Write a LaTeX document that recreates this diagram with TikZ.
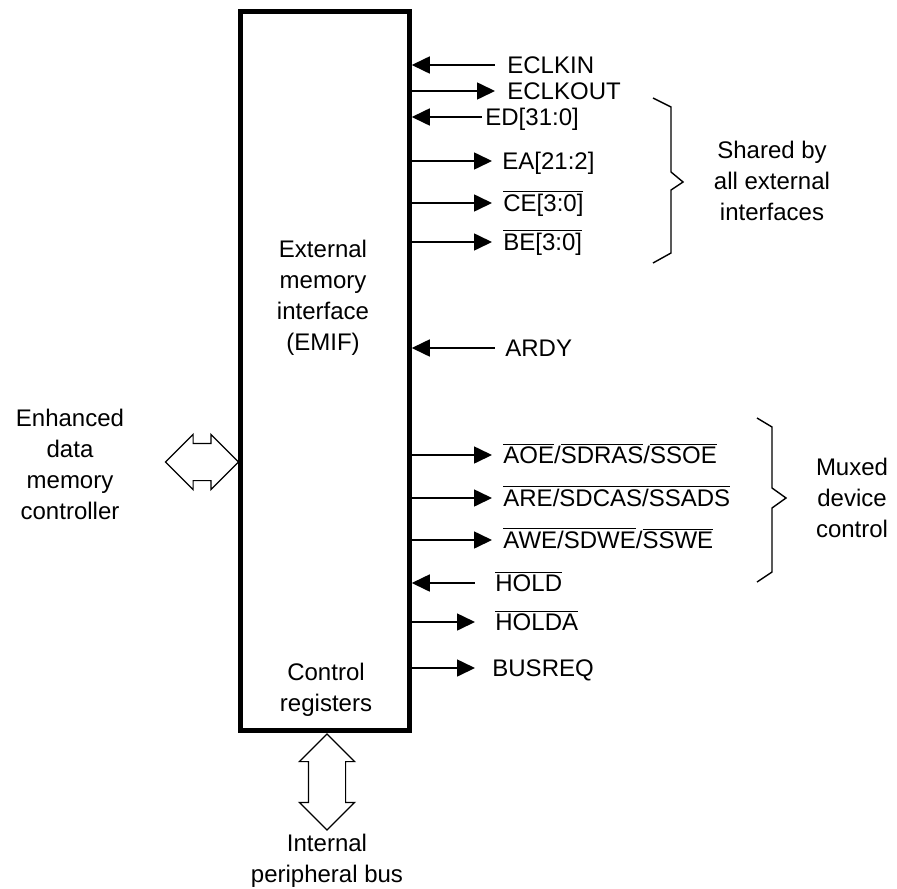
\documentclass[tikz,border=0pt]{standalone}
\usepackage{fontspec}
\setmainfont{Liberation Sans}
\usetikzlibrary{arrows.meta,shapes.arrows}
\newcommand\nbar[1]{$\overline{\mbox{#1}}$}

\begin{document}
\begin{tikzpicture}[x=0.5pt,y=-0.5pt,
 t/.style={align=center,font=\fontsize{12}{15.5}\selectfont},
 s/.style={anchor=west,inner sep=0pt,text height=8.6pt,text depth=0pt,font=\fontsize{12}{14}\selectfont},
 o/.style={-{Triangle[length=9pt,width=8.5pt]},line width=0.8pt},
 i/.style={{Triangle[length=9pt,width=8.5pt]}-,line width=0.8pt},
 bus/.style={draw,double arrow,line width=0.6pt,double arrow head extend=4.5pt,inner xsep=0pt,inner ysep=9pt},
 brc/.style={line width=0.7pt}]
\useasboundingbox (0,0) rectangle (897,888);
\node[draw,line width=2.5pt,minimum width=84.25pt,minimum height=359.75pt] (emif) at (325,371) {};
\node[t] (emiftxt) at (323,298) {External\\memory\\interface\\(EMIF)};
\node[t] (ctrl) at (326,690) {Control\\registers};
\node[t] (edmc) at (70,464) {Enhanced\\data\\memory\\controller};
\node[t] (ipb) at (327,861) {Internal\\peripheral bus};
\node[bus,minimum height=36.5pt,minimum width=27pt] (edmcbus) at (202,462) {};
\node[bus,rotate=90,minimum height=48pt,minimum width=26.5pt] (ipbbus) at (327,782) {};
% external signals
\node[s] (eclkin) at (507,65) {ECLKIN};
\node[s] (eclkout) at (507,91) {ECLKOUT};
\node[s] (ed) at (485,117) {ED[31:0]};
\node[s] (ea) at (502,161) {EA[21:2]};
\node[s] (ce) at (503,203) {\nbar{CE[3:0]}};
\node[s] (be) at (503,242) {\nbar{BE[3:0]}};
\node[s] (ardy) at (505,348) {ARDY};
\node[s] (aoe) at (503,455) {\nbar{AOE}/\nbar{SDRAS}/\nbar{SSOE}};
\node[s] (are) at (503,498) {\nbar{ARE/SDCAS/SSADS}};
\node[s] (awe) at (503,540) {\nbar{AWE/SDWE}/\nbar{SSWE}};
\node[s] (hold) at (495,583) {\nbar{HOLD}};
\node[s] (holda) at (495,622) {\nbar{HOLDA}};
\node[s] (busreq) at (492,668) {BUSREQ};
\draw[i] (emif.east |- eclkin.west) -- ([xshift=-6pt]eclkin.west);
\draw[o] (emif.east |- eclkout.west) -- ([xshift=-6pt]eclkout.west);
\draw[i] (emif.east |- ed.west) -- ([xshift=-1.5pt]ed.west);
\draw[o] (emif.east |- ea.west) -- ([xshift=-5pt]ea.west);
\draw[o] (emif.east |- ce.west) -- ([xshift=-5.5pt]ce.west);
\draw[o] (emif.east |- be.west) -- ([xshift=-5.5pt]be.west);
\draw[i] (emif.east |- ardy.west) -- ([xshift=-5pt]ardy.west);
\draw[o] (emif.east |- aoe.west) -- ([xshift=-5.5pt]aoe.west);
\draw[o] (emif.east |- are.west) -- ([xshift=-5.5pt]are.west);
\draw[o] (emif.east |- awe.west) -- ([xshift=-5.5pt]awe.west);
\draw[i] (emif.east |- hold.west) -- ([xshift=-10pt]hold.west);
\draw[o] (emif.east |- holda.west) -- ([xshift=-10pt]holda.west);
\draw[o] (emif.east |- busreq.west) -- ([xshift=-8.5pt]busreq.west);
% braces
\draw[brc] (653,98) -- (671,107) -- (671,172) -- (683,182) -- (671,190) -- (671,253) -- (653,263);
\node[t] (shared) at (772,181) {Shared by\\all external\\interfaces};
\draw[brc] (757,418) -- (772,427) -- (772,488) -- (786,498) -- (772,508) -- (772,572) -- (757,582);
\node[t] (muxed) at (852,498) {Muxed\\device\\control};
\end{tikzpicture}
\end{document}
